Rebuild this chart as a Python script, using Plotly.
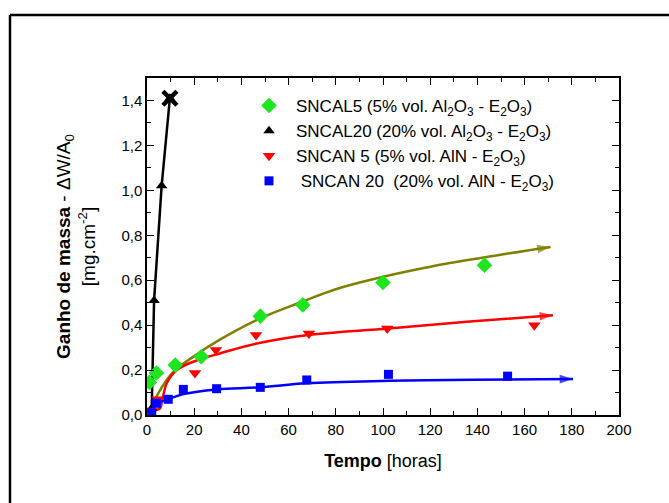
import plotly.graph_objects as go

# ---- measured data ----
sncal5_x = [0, 1, 4, 12, 23, 48, 66, 100, 143]
sncal5_y = [0.0, 0.145, 0.187, 0.222, 0.259, 0.44, 0.49, 0.59, 0.667]

sncal20_x = [2, 3, 6.2, 9.7]
sncal20_y = [0.03, 0.51, 1.02, 1.41]

sncan5_x = [1.5, 4.5, 20.3, 29.2, 46.2, 68.6, 101.8, 164.1]
sncan5_y = [0.02, 0.07, 0.187, 0.289, 0.356, 0.363, 0.385, 0.40]

sncan20_x = [2, 4, 9, 15.4, 29.5, 48, 67.7, 102.3, 152.8]
sncan20_y = [0.01, 0.052, 0.07, 0.114, 0.117, 0.123, 0.156, 0.181, 0.173]

# fitted trend curves
fit5_x = [1.3, 3, 5.5, 11, 22.5, 30, 48, 66, 80, 100, 120, 142, 171]
fit5_y = [0.015, 0.06, 0.11, 0.19, 0.28, 0.33, 0.43, 0.505, 0.56, 0.615, 0.66, 0.70, 0.748]

fitn5_x = [0, 5.5, 6.3, 7.2, 8.3, 12.6, 19.6, 30.9, 46.5, 68.4, 102.3, 135.5, 172]
fitn5_y = [0.015, 0.03, 0.06, 0.1, 0.14, 0.2, 0.237, 0.274, 0.318, 0.356, 0.385, 0.415, 0.444]

fitn20_x = [0, 4, 9, 15.4, 29.5, 48, 67.7, 102.3, 138, 180.5]
fitn20_y = [0.01, 0.05, 0.07, 0.093, 0.114, 0.123, 0.141, 0.152, 0.157, 0.16]

names = [
    "SNCAL5 (5% vol. Al<sub>2</sub>O<sub>3</sub> - E<sub>2</sub>O<sub>3</sub>)",
    "SNCAL20 (20% vol. Al<sub>2</sub>O<sub>3</sub> - E<sub>2</sub>O<sub>3</sub>)",
    "SNCAN 5 (5% vol. AlN - E<sub>2</sub>O<sub>3</sub>)",
    " SNCAN 20  (20% vol. AlN - E<sub>2</sub>O<sub>3</sub>)",
]

GREEN = "#1ee61e"
OLIVE = "#808000"
RED = "#ff0000"
BLUE = "#0000ff"
FONT = "Arial, Liberation Sans, sans-serif"

fig = go.Figure()


def fit_trace(x, y, color):
    n = len(x)
    return go.Scatter(
        x=x, y=y, mode="lines+markers", showlegend=False, hoverinfo="skip",
        line=dict(color=color, width=2.5, shape="spline", smoothing=1.1),
        marker=dict(symbol="arrow", angleref="previous", color=color,
                    size=[0] * (n - 1) + [14], line=dict(width=0)),
    )


fig.add_trace(fit_trace(fit5_x, fit5_y, OLIVE))
fig.add_trace(fit_trace(fitn5_x, fitn5_y, RED))
fig.add_trace(fit_trace(fitn20_x, fitn20_y, BLUE))

# SNCAL20 connecting line (no legend entry)
fig.add_trace(go.Scatter(
    x=sncal20_x, y=sncal20_y, mode="lines", showlegend=False, hoverinfo="skip",
    line=dict(color="black", width=2.5)))

fig.add_trace(go.Scatter(
    x=sncal5_x, y=sncal5_y, mode="markers", name=names[0], legendgroup="a",
    marker=dict(symbol="diamond", size=12, color=GREEN)))
fig.add_trace(go.Scatter(
    x=sncal20_x, y=sncal20_y, mode="markers", name=names[1], legendgroup="b",
    marker=dict(symbol="triangle-up", size=10, color="black")))
# final SNCAL20 point is flagged with a bold X
fig.add_trace(go.Scatter(
    x=sncal20_x[-1:], y=sncal20_y[-1:], mode="markers", showlegend=False, hoverinfo="skip",
    marker=dict(symbol="x-thin-open", size=14, color="black",
                line=dict(width=4.5, color="black"))))
fig.add_trace(go.Scatter(
    x=sncan5_x, y=sncan5_y, mode="markers", name=names[2], legendgroup="c",
    marker=dict(symbol="triangle-down", size=11, color=RED)))
fig.add_trace(go.Scatter(
    x=sncan20_x, y=sncan20_y, mode="markers", name=names[3], legendgroup="d",
    marker=dict(symbol="square", size=9, color=BLUE)))

axis_common = dict(
    showline=True, linecolor="black", linewidth=1.5, mirror="allticks",
    ticks="inside", ticklen=7, tickwidth=1.2, tickcolor="black",
    showgrid=False, zeroline=False,
    tickfont=dict(family=FONT, size=15, color="black"),
)

fig.update_xaxes(
    range=[0, 200], dtick=20, tick0=0,
    minor=dict(ticks="inside", ticklen=4, dtick=10, tickcolor="black", tickwidth=1.2),
    title=dict(text="<b>Tempo</b> [horas]", font=dict(family=FONT, size=18, color="black"),
               standoff=18),
    **axis_common,
)
fig.update_yaxes(
    range=[0, 1.5], dtick=0.2, tick0=0, tickformat=".1f",
    minor=dict(ticks="inside", ticklen=4, dtick=0.1, tickcolor="black", tickwidth=1.2),
    title=dict(text="<b>Ganho de massa</b> - ΔW/A<sub>0</sub><br>[mg.cm<sup>-2</sup>]",
               font=dict(family=FONT, size=19, color="black"), standoff=21),
    **axis_common,
)

L, R, T, B = 147, 50, 78, 88
W, H = 669, 503
pw, ph = W - L - R, H - T - B


def px2paper_x(px):
    return (px - L) / pw


def px2paper_y(py):
    return (H - B - py) / ph


frame = dict(type="line", xref="paper", yref="paper", line=dict(color="black", width=2.5))
fig.add_shape(x0=px2paper_x(10), x1=px2paper_x(669), y0=px2paper_y(15), y1=px2paper_y(15), **frame)
fig.add_shape(x0=px2paper_x(10), x1=px2paper_x(10), y0=px2paper_y(15), y1=px2paper_y(503), **frame)

fig.update_layout(
    width=W, height=H,
    margin=dict(l=L, r=R, t=T, b=B),
    paper_bgcolor="white", plot_bgcolor="white",
    separators=",.",
    font=dict(family=FONT, color="black"),
    legend=dict(
        x=px2paper_x(242), y=px2paper_y(88), xanchor="left", yanchor="top",
        bgcolor="rgba(0,0,0,0)", borderwidth=0,
        font=dict(family=FONT, size=17, color="black"),
        traceorder="grouped", tracegroupgap=0, itemwidth=44,
    ),
)

fig.write_html(
    "out.html",
    config={"displayModeBar": False},
    post_script="document.body.style.margin='0';document.body.style.overflow='hidden';",
)
